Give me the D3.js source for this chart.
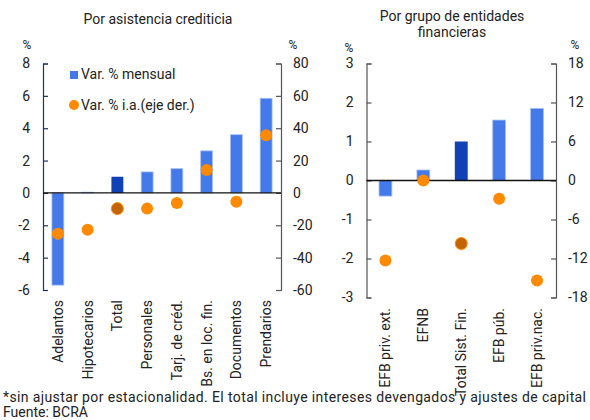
<!DOCTYPE html>
<html><head><meta charset="utf-8">
<script src="https://cdn.jsdelivr.net/npm/d3@7"></script>
<style>body{margin:0;background:#fff}svg{display:block;font-family:Roboto,"Noto Sans",sans-serif}</style>
</head><body><svg id="c" width="590" height="420"></svg>
<script>
// Left panel: por asistencia crediticia
const catsA = ["Adelantos","Hipotecarios","Total","Personales","Tarj. de créd.","Bs. en loc. fin.","Documentos","Prendarios"];
const mensualA = [-5.7, 0.05, 1.0, 1.3, 1.5, 2.6, 3.6, 5.85];
const iaA = [-25.3, -22.8, -9.7, -9.7, -6.2, 14.2, -5.4, 35.6];
const ticksA = [-6,-4,-2,0,2,4,6,8];
const ticksA2 = [-60,-40,-20,0,20,40,60,80];
// Right panel: por grupo de entidades financieras
const catsB = ["EFB priv. ext.","EFNB","Total Sist. Fin.","EFB púb.","EFB priv.nac."];
const mensualB = [-0.4, 0.27, 1.0, 1.55, 1.85];
const iaB = [-12.3, 0.0, -9.7, -2.8, -15.4];
const ticksB = [-3,-2,-1,0,1,2,3];
const ticksB2 = [-18,-12,-6,0,6,12,18];

const svg = d3.select("#c");
const BLUE = "#4479e9", DARK = "#1042b6", ORANGE = "#ff8a00", DORANGE = "#c26400";
const FS = 14;

function panel(o){
  const g = svg.append("g");
  const x = d3.scaleBand().domain(o.cats).range([o.x0,o.x1]).paddingInner(o.pad).paddingOuter(o.pad/2);
  const y = d3.scaleLinear().domain(o.dom).range([o.y1,o.y0]);
  const y2 = d3.scaleLinear().domain(o.dom2).range([o.y1,o.y0]);
  const fmt = d => String(d);
  const la = g.append("g").attr("transform",`translate(${o.x0},0)`)
    .call(d3.axisLeft(y).tickValues(o.ticks).tickFormat(fmt).tickSizeInner(-5).tickSizeOuter(-5).tickPadding(13));
  const ra = g.append("g").attr("transform",`translate(${o.x1},0)`)
    .call(d3.axisRight(y2).tickValues(o.ticks2).tickFormat(fmt).tickSizeInner(-5).tickSizeOuter(-5).tickPadding(12));
  [la,ra].forEach((a,i)=>{
    a.selectAll("path,line").attr("stroke", i===0 ? o.lc : "#555").attr("stroke-width",1.2);
    a.selectAll("text").attr("font-size",FS).attr("fill","#222").attr("font-family","Roboto");
  });
  g.selectAll("rect.b").data(o.vals).enter().append("rect")
    .attr("x",(d,i)=>x(o.cats[i])).attr("width",x.bandwidth())
    .attr("y",d=>y(Math.max(0,d))).attr("height",d=>Math.abs(y(d)-y(0)))
    .attr("fill",(d,i)=>i===o.tot?DARK:BLUE)
    .attr("stroke",(d,i)=>i===o.tot?"none":"#a9c1f4").attr("stroke-width",0.8);
  g.append("line").attr("x1",o.x0).attr("x2",o.x1).attr("y1",y(0)).attr("y2",y(0))
    .attr("stroke","#111").attr("stroke-width",1.3);
  g.selectAll("circle.d").data(o.ia).enter().append("circle")
    .attr("cx",(d,i)=>x(o.cats[i])+x.bandwidth()/2).attr("cy",d=>y2(d)).attr("r",6)
    .attr("fill",(d,i)=>i===o.tot?DORANGE:ORANGE)
    .attr("stroke",(d,i)=>i===o.tot?ORANGE:"none").attr("stroke-width",1);
  o.cats.forEach((c,i)=>{
    const cx = x(c)+x.bandwidth()/2;
    g.append("text").attr("transform",`translate(${cx+5},${o.ly}) rotate(-90)`)
      .attr("text-anchor","end").attr("font-size",FS).attr("fill","#222").text(c);
  });
  g.append("text").attr("x",o.pl[0]).attr("y",o.pl[1]).attr("font-size",12).attr("fill","#222").attr("text-anchor","middle").text("%");
  g.append("text").attr("x",o.pr[0]).attr("y",o.pr[1]).attr("font-size",12).attr("fill","#222").attr("text-anchor","middle").text("%");
}

panel({cats:catsA, vals:mensualA, ia:iaA, dom:[-6,8], dom2:[-60,80], ticks:ticksA, ticks2:ticksA2,
  x0:43, x1:281, y0:63.5, y1:290, pad:0.6, tot:2, ly:300, lc:"#1d3466", pl:[27,49], pr:[293,49]});
panel({cats:catsB, vals:mensualB, ia:iaB, dom:[-3,3], dom2:[-18,18], ticks:ticksB, ticks2:ticksB2,
  x0:366.5, x1:556, y0:63.5, y1:297.5, pad:0.66, tot:2, ly:308, lc:"#555", pl:[349,52], pr:[575,49]});

svg.append("text").attr("x",158).attr("y",24).attr("text-anchor","middle").attr("font-size",FS).attr("fill","#222").text("Por asistencia crediticia");
svg.append("text").attr("x",452).attr("y",21).attr("text-anchor","middle").attr("font-size",FS).attr("fill","#222").text("Por grupo de entidades");
svg.append("text").attr("x",452).attr("y",37).attr("text-anchor","middle").attr("font-size",FS).attr("fill","#222").text("financieras");

svg.append("rect").attr("x",70).attr("y",71).attr("width",8).attr("height",8).attr("fill",BLUE);
svg.append("text").attr("x",81).attr("y",79).attr("font-size",FS).attr("fill","#222").text("Var. % mensual");
svg.append("circle").attr("cx",74).attr("cy",105).attr("r",5).attr("fill",ORANGE);
svg.append("text").attr("x",81).attr("y",110).attr("font-size",FS).attr("fill","#222").text("Var. % i.a.(eje der.)");

svg.append("text").attr("x",3).attr("y",402).attr("font-size",FS).attr("fill","#222")
  .attr("textLength",583).attr("lengthAdjust","spacing")
  .text("*sin ajustar por estacionalidad. El total incluye intereses devengados y ajustes de capital");
svg.append("text").attr("x",3).attr("y",417).attr("font-size",FS).attr("fill","#222").text("Fuente: BCRA");
</script></body></html>
